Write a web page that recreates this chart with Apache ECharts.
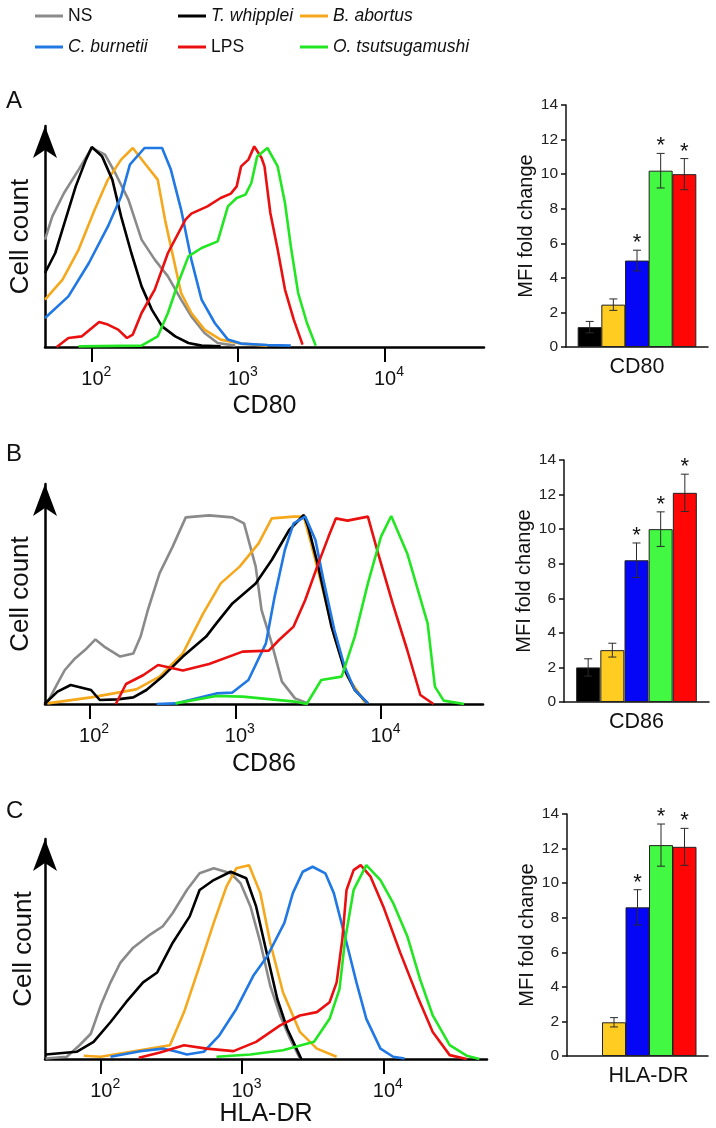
<!DOCTYPE html>
<html>
<head>
<meta charset="utf-8">
<script src="https://cdn.jsdelivr.net/npm/echarts/dist/echarts.min.js"></script>
<style>
html,body{margin:0;padding:0;background:#fff;}
#chart{width:716px;height:1128px;}
</style>
</head>
<body>
<div id="chart"></div>
<script>
// ---------- DATA ----------
// histogram x values are log10 fluorescence intensity, y values are cell counts (relative)
const histNames = ['NS', 'T. whipplei', 'B. abortus', 'C. burnetii', 'LPS', 'O. tsutsugamushi'];
const decadeTicks = [2, 3, 4];

// Panel A - CD80
const cd80_NS = [[1.68,53.7],[1.73,65.3],[1.81,77],[1.91,88.7],[2.0,99.5],[2.09,96.2],[2.16,87],[2.25,73.7],[2.34,53.7],[2.43,43.7],[2.52,35.3],[2.61,23.7],[2.68,15.3],[2.77,7],[2.86,2],[2.98,0.7]];
const cd80_Tw = [[1.68,37],[1.75,47],[1.82,63.7],[1.89,80.3],[1.96,93.7],[2.0,100],[2.07,95.3],[2.14,83.7],[2.2,65.3],[2.27,47],[2.34,30.3],[2.41,18.7],[2.48,10.3],[2.57,5.3],[2.66,2],[2.75,0.7],[2.88,0.3]];
const cd80_Ba = [[1.68,23.7],[1.8,33.7],[1.91,48.7],[2.02,68.7],[2.11,83.7],[2.2,93.7],[2.28,99.5],[2.36,92],[2.45,83.7],[2.5,63.7],[2.54,50.3],[2.61,27],[2.68,17],[2.77,8.7],[2.88,3.7],[3.02,1.7],[3.2,0.7]];
const cd80_Cb = [[1.68,14.5],[1.84,25.3],[1.98,42],[2.11,60.3],[2.2,75.3],[2.26,91.2],[2.36,99.5],[2.48,99.5],[2.54,88.7],[2.61,68.7],[2.68,43.7],[2.75,23.7],[2.84,12],[2.93,3.7],[3.02,1.7],[3.2,1],[3.36,0.7]];
const cd80_LPS = [[1.76,0],[1.84,4.5],[1.93,5.3],[2.05,12.5],[2.11,11.2],[2.18,8.7],[2.24,4.5],[2.28,6.2],[2.34,17],[2.43,28.7],[2.52,47],[2.64,63.7],[2.68,66.7],[2.79,70.3],[2.88,74.5],[2.95,76.7],[2.99,80.3],[3.02,90.3],[3.07,93.7],[3.11,100.3],[3.16,94.5],[3.18,90.3],[3.22,67],[3.27,48.7],[3.32,28.7],[3.38,13.7],[3.44,1.2]];
const cd80_Ot = [[1.91,0.3],[2.34,0.7],[2.45,5.3],[2.52,17],[2.59,32],[2.66,45.3],[2.75,49.5],[2.86,52.8],[2.93,70.3],[2.99,74.5],[3.05,76.2],[3.09,82],[3.13,95.3],[3.2,99.5],[3.27,90.3],[3.32,72],[3.36,50.3],[3.41,27],[3.47,12],[3.53,0.7]];

// Panel B - CD86
const cd86_NS = [[1.71,0.7],[1.78,10.3],[1.83,17],[1.9,22.8],[1.98,27.8],[2.04,32.3],[2.1,28.7],[2.21,23.7],[2.3,25.3],[2.35,33.7],[2.4,47],[2.48,65.3],[2.57,78.7],[2.66,93.3],[2.82,94.3],[2.98,93.3],[3.06,90.3],[3.14,68.7],[3.18,47],[3.25,30.3],[3.32,11.2],[3.41,2.8],[3.5,0.3]];
const cd86_Tw = [[1.69,0],[1.78,6.2],[1.87,9.5],[2.01,7],[2.07,2],[2.19,2.3],[2.3,3.3],[2.39,7],[2.5,13.7],[2.64,23.7],[2.8,33.7],[2.87,40.3],[2.98,50.3],[3.14,60.3],[3.25,72],[3.37,87],[3.47,94.5],[3.5,88.7],[3.57,68.7],[3.66,38.7],[3.75,17],[3.82,7],[3.91,0.3]];
const cd86_Ba = [[1.71,0.3],[2.01,3.3],[2.32,7.3],[2.48,13.7],[2.64,25.3],[2.78,45.3],[2.9,60.3],[3.03,68.7],[3.16,80.3],[3.25,92.8],[3.4,93.7],[3.47,93.7],[3.52,80.3],[3.59,60.3],[3.68,33.7],[3.77,13.7],[3.89,0.7]];
const cd86_Cb = [[2.46,0],[2.59,0.3],[2.87,5.3],[2.98,5.7],[3.09,12],[3.21,30.3],[3.27,53.7],[3.34,77],[3.4,90.3],[3.48,93.7],[3.55,82],[3.61,60.3],[3.68,37],[3.75,18.7],[3.82,7],[3.91,0.3]];
const cd86_LPS = [[2.18,0],[2.25,10],[2.37,14.5],[2.47,19.5],[2.64,16.7],[2.82,20],[3.05,26.2],[3.23,26.7],[3.3,32],[3.4,38.7],[3.48,52],[3.57,70.3],[3.64,83.7],[3.69,92.8],[3.77,91.7],[3.91,93.7],[3.98,75.3],[4.08,50.3],[4.18,27],[4.27,4.5],[4.36,0]];
const cd86_Ot = [[2.59,0.3],[2.87,4],[3.05,3.7],[3.41,1.2],[3.49,0],[3.59,12],[3.73,13.7],[3.82,33.7],[3.91,60.3],[4.0,83.7],[4.07,94],[4.18,75.3],[4.32,40.3],[4.37,8.7],[4.43,1.7],[4.57,0]];

// Panel C - HLA-DR
const hla_NS = [[1.61,0.3],[1.76,1.2],[1.85,7],[1.93,12.8],[2.0,27],[2.07,38.7],[2.14,48.7],[2.23,56.2],[2.35,62.8],[2.44,67],[2.51,73.7],[2.61,85.3],[2.7,93.7],[2.8,96.2],[2.92,93.7],[2.99,88.7],[3.06,77],[3.13,58.7],[3.2,37],[3.27,22],[3.34,10.3],[3.41,0.3]];
const hla_Tw = [[1.61,2.3],[1.83,3.7],[1.95,8.7],[2.07,18.7],[2.18,28.7],[2.3,38.7],[2.4,43.7],[2.51,58.7],[2.63,72],[2.7,85.3],[2.8,90.3],[2.92,94.5],[3.03,91.2],[3.1,77],[3.18,52],[3.25,30.3],[3.32,15.3],[3.42,0]];
const hla_Ba = [[1.88,1.7],[2.0,1.2],[2.49,7],[2.59,23.7],[2.7,47],[2.8,68.7],[2.89,87],[2.96,96.2],[3.05,97.8],[3.13,83.7],[3.2,58.7],[3.29,33.7],[3.41,13.7],[3.53,5.3],[3.67,1.2]];
const hla_Cb = [[2.07,1.2],[2.28,4],[2.44,5.3],[2.54,3.7],[2.61,2.3],[2.73,3.7],[2.84,12],[2.96,25.3],[3.08,42],[3.18,52],[3.3,68.7],[3.36,83.7],[3.43,94.5],[3.5,97],[3.59,93.7],[3.65,83.7],[3.74,58.7],[3.81,38.7],[3.88,20.3],[3.98,5.3],[4.07,1.2],[4.15,0.3]];
const hla_LPS = [[2.27,0.7],[2.42,3.3],[2.59,7],[2.75,5.3],[2.94,4],[3.1,8.7],[3.27,17],[3.41,22],[3.53,23.7],[3.62,28.7],[3.67,38.7],[3.71,60.3],[3.74,85.3],[3.79,95.3],[3.84,97.8],[3.91,92],[4.0,77],[4.12,53.7],[4.24,32],[4.35,13.7],[4.47,2],[4.59,0]];
const hla_Ot = [[2.82,1.2],[3.06,2.3],[3.29,4.5],[3.51,8.7],[3.62,20.3],[3.69,35.3],[3.73,60.3],[3.79,85.3],[3.88,97.8],[3.98,90.3],[4.07,78.7],[4.17,62],[4.26,40.3],[4.35,22],[4.47,7],[4.59,1.7],[4.68,0]];

// Bar charts: MFI fold change
const barGroups = ['T. whipplei', 'B. abortus', 'C. burnetii', 'O. tsutsugamushi', 'LPS'];
const cd80Fold = [1.15, 2.45, 5.0, 10.2, 10.0];
const cd80Err  = [0.33, 0.33, 0.6, 1.0, 0.9];
const cd80Sig  = [0, 0, 1, 1, 1];
const cd86Fold = [2.0, 3.0, 8.2, 10.0, 12.1];
const cd86Err  = [0.5, 0.4, 1.0, 1.0, 1.08];
const cd86Sig  = [0, 0, 1, 1, 1];
const hlaFold  = [null, 1.95, 8.6, 12.2, 12.1];
const hlaErr   = [null, 0.27, 1.02, 1.22, 1.07];
const hlaSig   = [0, 0, 1, 1, 1];
const foldTicks = [0, 14, 2]; // min, max, interval

// ---------- STYLE ----------
const FONT = '"Liberation Sans", Arial, Helvetica, sans-serif';
const histColors = {'NS':'#8a8a8a','T. whipplei':'#000000','B. abortus':'#f6a81c','C. burnetii':'#1f78e4','LPS':'#ea1010','O. tsutsugamushi':'#22e622'};
const drawOrder = ['NS', 'B. abortus', 'T. whipplei', 'C. burnetii', 'LPS', 'O. tsutsugamushi'];
const barColors = ['#000000','#ffcc22','#0606f6','#42f842','#ff0606'];
const italicNames = ['T. whipplei','B. abortus','C. burnetii','O. tsutsugamushi'];

const histPanels = [
  {title:'A', name:'CD80', sets:[cd80_NS,cd80_Tw,cd80_Ba,cd80_Cb,cd80_LPS,cd80_Ot],
   grid:{left:43, top:126, width:441, height:221}, xr:[1.68,4.68], ymax:110.5, nameGap:47, yGap:11, titleTop:89},
  {title:'B', name:'CD86', sets:[cd86_NS,cd86_Tw,cd86_Ba,cd86_Cb,cd86_LPS,cd86_Ot],
   grid:{left:41, top:484, width:442, height:220}, xr:[1.694,4.70], ymax:110, nameGap:48, yGap:11, titleTop:442},
  {title:'C', name:'HLA-DR', sets:[hla_NS,hla_Tw,hla_Ba,hla_Cb,hla_LPS,hla_Ot],
   grid:{left:45, top:839, width:442, height:222}, xr:[1.606,4.734], ymax:111, nameGap:38, yGap:8, titleTop:799}
];
const barPanels = [
  {name:'CD80', fold:cd80Fold, err:cd80Err, sig:cd80Sig, grid:{left:566, top:105, width:142, height:242}, namePad:[0,0,0,0]},
  {name:'CD86', fold:cd86Fold, err:cd86Err, sig:cd86Sig, grid:{left:564, top:460, width:145, height:242}, namePad:[0,0,0,0]},
  {name:'HLA-DR', fold:hlaFold, err:hlaErr, sig:hlaSig, grid:{left:567, top:814, width:141, height:242}, namePad:[0,0,0,22]}
];

const grids = [], xAxes = [], yAxes = [], series = [], titles = [];

histPanels.forEach((p, pi) => {
  grids.push(Object.assign({containLabel:false}, p.grid));
  titles.push({text:p.title, left:6, top:p.titleTop, padding:0, textStyle:{fontFamily:FONT, fontSize:24, fontWeight:'normal', color:'#111'}});
  xAxes.push({
    type:'value', gridIndex:grids.length-1, min:p.xr[0], max:p.xr[1],
    axisLine:{show:true, onZero:false, lineStyle:{color:'#000', width:2.5}},
    axisTick:{show:true, length:15, lineStyle:{color:'#000', width:2}, customValues:decadeTicks},
    axisLabel:{show:true, customValues:decadeTicks, margin:18, padding:[0,0,0,9],
      formatter:v => '{b|10}{s|' + Math.round(v) + '}',
      rich:{b:{fontFamily:FONT, fontSize:20, color:'#111', lineHeight:24, verticalAlign:'bottom'},
            s:{fontFamily:FONT, fontSize:14, color:'#111', lineHeight:24, verticalAlign:'top'}}},
    splitLine:{show:false},
    name:p.name, nameLocation:'middle', nameGap:p.nameGap,
    nameTextStyle:{fontFamily:FONT, fontSize:25, color:'#111'}
  });
  yAxes.push({
    type:'value', gridIndex:grids.length-1, min:0, max:p.ymax,
    axisLine:{show:true, onZero:false, symbol:['none','arrow'], symbolSize:[18,32], lineStyle:{color:'#000', width:2.5}},
    axisTick:{show:false}, axisLabel:{show:false}, splitLine:{show:false},
    name:'Cell count', nameLocation:'middle', nameGap:p.yGap,
    nameTextStyle:{fontFamily:FONT, fontSize:26, color:'#111'}
  });
  const gi = grids.length-1;
  drawOrder.forEach(n => {
    const si = histNames.indexOf(n);
    series.push({
      type:'line', name:n, xAxisIndex:gi, yAxisIndex:gi, data:p.sets[si],
      symbol:'none', showSymbol:false, smooth:false, silent:true, animation:false,
      lineStyle:{color:histColors[n], width:2.6}, itemStyle:{color:histColors[n]}
    });
  });
});

function errRender(params, api) {
  const x = api.value(0), m = api.value(1), e = api.value(2), sig = api.value(3);
  const top = api.coord([x, m + e]);
  const bot = api.coord([x, m - e]);
  const hw = 4;
  const ls = {stroke:'#2a2a2a', lineWidth:1};
  const ch = [
    {type:'line', shape:{x1:top[0], y1:top[1], x2:bot[0], y2:bot[1]}, style:ls},
    {type:'line', shape:{x1:top[0]-hw, y1:top[1], x2:top[0]+hw, y2:top[1]}, style:ls},
    {type:'line', shape:{x1:bot[0]-hw, y1:bot[1], x2:bot[0]+hw, y2:bot[1]}, style:ls}
  ];
  if (sig) ch.push({type:'text', style:{text:'*', x:top[0], y:top[1]+4, align:'center', verticalAlign:'bottom', fontSize:22, fontFamily:FONT, fill:'#111'}});
  return {type:'group', children:ch};
}

barPanels.forEach(p => {
  grids.push(Object.assign({containLabel:false}, p.grid));
  const gi = grids.length-1;
  xAxes.push({
    type:'value', gridIndex:gi, min:-1, max:5, interval:1,
    axisLine:{show:true, onZero:false, lineStyle:{color:'#111', width:1.5}},
    axisTick:{show:false}, axisLabel:{show:false}, splitLine:{show:false},
    name:p.name, nameLocation:'middle', nameGap:9,
    nameTextStyle:{fontFamily:FONT, fontSize:21.5, color:'#111', padding:p.namePad}
  });
  yAxes.push({
    type:'value', gridIndex:gi, min:foldTicks[0], max:foldTicks[1], interval:foldTicks[2],
    axisLine:{show:true, onZero:false, lineStyle:{color:'#111', width:1.5}},
    axisTick:{show:true, inside:false, length:5, lineStyle:{color:'#111', width:1.5}},
    axisLabel:{fontFamily:FONT, fontSize:15.5, color:'#222', margin:8},
    splitLine:{show:false},
    name:'MFI fold change', nameLocation:'middle', nameGap:30,
    nameTextStyle:{fontFamily:FONT, fontSize:20, color:'#111'}
  });
  const barData = [], errData = [];
  p.fold.forEach((v, i) => {
    if (v == null) return;
    barData.push({value:[i, v], itemStyle:{color:barColors[i]}});
    errData.push([i, v, p.err[i], p.sig[i]]);
  });
  series.push({type:'bar', xAxisIndex:gi, yAxisIndex:gi, data:barData, barWidth:24, silent:true, animation:false,
    itemStyle:{borderColor:'#222', borderWidth:1}});
  series.push({type:'custom', xAxisIndex:gi, yAxisIndex:gi, data:errData, renderItem:errRender, silent:true, animation:false,
    encode:{x:0, y:1}, z:5});
});

const legendText = {fontFamily:FONT, fontSize:17.5, color:'#111', rich:{i:{fontFamily:FONT, fontSize:17.5, fontStyle:'italic', color:'#111'}}};
const legendFmt = n => italicNames.includes(n) ? '{i|' + n + '}' : n;
const legendCols = [['NS','C. burnetii'], ['T. whipplei','LPS'], ['B. abortus','O. tsutsugamushi']];
const legendLeft = [35, 178, 300];
const legends = legendCols.map((d, i) => ({
  data:d, left:legendLeft[i], top:7, orient:'vertical', padding:0, icon:'rect', itemWidth:28, itemHeight:3, itemGap:13,
  selectedMode:false, textStyle:legendText, formatter:legendFmt
}));

const chart = echarts.init(document.getElementById('chart'), null, {renderer:'canvas'});
chart.setOption({
  backgroundColor:'#ffffff', animation:false,
  title:titles, legend:legends, grid:grids, xAxis:xAxes, yAxis:yAxes, series:series
});
</script>
</body>
</html>
